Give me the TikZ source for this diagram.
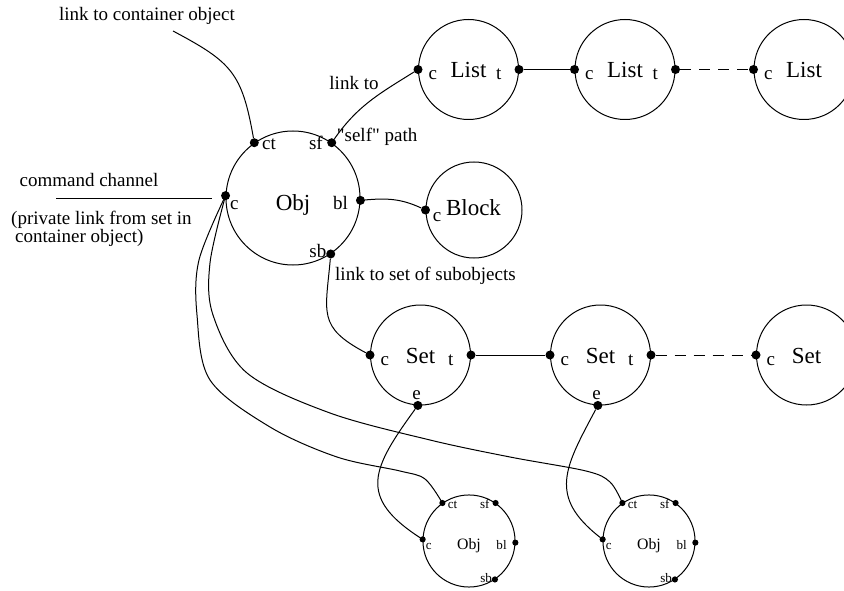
\documentclass[tikz,border=0pt]{standalone}
\usepackage{fontspec}
\setmainfont{Liberation Serif}
% same face, but with straight double quotes kept as typed
\newfontfamily\straightserif{Liberation Serif}[Ligatures=TeXOff]

% A chain element (List / Set): ring, title, entry port "c" on the left
\newcommand{\chainring}[4]{% name, x, y, title
  \node[ring, minimum size=100pt] (#1) at (#2,#3) {};
  \node[namefont, anchor=base, yshift=-8pt] (#1-name) at (#2,#3) {#4};
  \node[port] (#1-c) at (#1.180) {};
  \node[tagfont, anchor=base west, xshift=-40pt, yshift=-10pt] (#1-cl) at (#2,#3) {c};
}
% Exit port "t" on the right of a chain element
\newcommand{\tailport}[3]{% name, x, y
  \node[port] (#1-t) at (#1.0) {};
  \node[tagfont, anchor=base east, xshift=33pt, yshift=-10pt] (#1-tl) at (#2,#3) {t};
}
% An object with its five ports ct, sf, c, bl, sb
\newcommand{\objunit}[4]{% name, x, y, scale
  \begin{scope}[shift={(#2,#3)}, scale=#4, transform shape]
    \node[ring, minimum size=134pt] (#1) at (0,0) {};
    \node[namefont, anchor=base] (#1-name) at (0,-13) {Obj};
    \node[port] (#1-ct) at (#1.125) {};
    \node[port] (#1-sf) at (#1.55) {};
    \node[port] (#1-c)  at (#1.178) {};
    \node[port] (#1-bl) at (#1.-2) {};
    \node[port] (#1-sb) at (#1.-56) {};
    \node[tagfont, anchor=base west] (#1-ctl) at (-31,48) {ct};
    \node[tagfont, anchor=base east] (#1-sfl) at (30,48) {sf};
    \node[tagfont, anchor=base west] (#1-cl)  at (-63,-12) {c};
    \node[tagfont, anchor=base east] (#1-bll) at (55,-12) {bl};
    \node[tagfont, anchor=base east] (#1-sbl) at (33.5,-60) {sb};
  \end{scope}
}

\begin{document}
\begin{tikzpicture}[x=1pt, y=1pt,
  ring/.style={circle, draw, line width=1pt, inner sep=0pt},
  port/.style={circle, fill, inner sep=0pt, minimum size=9pt},
  namefont/.style={font=\fontsize{23}{25}\selectfont, inner sep=0pt},
  tagfont/.style={font=\fontsize{19}{21}\selectfont, inner sep=0pt},
  link/.style={line width=1pt},
  trail/.style={link, dash pattern=on 11pt off 8pt}]
\useasboundingbox (0,0) rectangle (844,-591);
\clip (0,0) rectangle (844,-591);

% main object
\objunit{obj}{293}{-198}{1}

% list chain
\chainring{list1}{468.5}{-69.5}{List}
\tailport{list1}{468.5}{-69.5}
\chainring{list2}{625}{-69.5}{List}
\tailport{list2}{625}{-69.5}
\chainring{list3}{804}{-69.5}{List}

% block
\node[ring, minimum size=96pt] (block) at (474,-210) {};
\node[namefont, anchor=base] (block-name) at (473.5,-215) {Block};
\node[port] (block-c) at (block.180) {};
\node[tagfont, anchor=base west] (block-cl) at (432.7,-221.7) {c};

% set chain
\chainring{set1}{420.5}{-355}{Set}
\tailport{set1}{420.5}{-355}
\node[port] (set1-e) at (set1.-93) {};
\node[tagfont, anchor=base] (set1-el) at (416.5,-399) {e};
\chainring{set2}{600.5}{-355}{Set}
\tailport{set2}{600.5}{-355}
\node[port] (set2-e) at (set2.-93) {};
\node[tagfont, anchor=base] (set2-el) at (596.5,-399) {e};
\chainring{set3}{806.5}{-355}{Set}

% subobjects
\objunit{sub1}{469}{-541}{0.687}
\objunit{sub2}{649}{-541}{0.687}

% annotations
\node[tagfont, anchor=base] (t-container) at (147,-20.5) {link to container object};
\node[tagfont, anchor=base] (t-command) at (89,-186) {command channel};
\node[tagfont, anchor=base west] (t-private1) at (11,-225) {(private link from set in};
\node[tagfont, anchor=base west] (t-private2) at (15,-242.5) {container object)};
\node[tagfont, anchor=base] (t-linkto) at (354,-90) {link to};
\node[tagfont, anchor=base west] (t-self) at (336.7,-141.7) {\straightserif "self" path};
\node[tagfont, anchor=base west] (t-subset) at (335,-280) {link to set of subobjects};

% free ends
\coordinate (ctfree) at (173,-31);
\coordinate (cmdA) at (56,-198.3);
\coordinate (cmdB) at (211.7,-198.3);

% connectors
\draw[link] (ctfree) to[out=-28, in=100, looseness=1.27] (obj-ct);
\draw[link] (cmdA) -- (cmdB);
\draw[link] (obj-sf) to[out=55, in=212] (list1-c);
\draw[link] (obj-bl) to[out=5, in=155] (block-c);
\draw[link] (obj-sb) to[out=-95, in=152, looseness=1.4] (set1-c);
\draw[link] (list1-t) -- (list2-c);
\draw[trail] (list2-t) -- (list3-c);
\draw[link] (set1-t) -- (set2-c);
\draw[trail] (set2-t) -- (set3-c);
\draw[link] (set1-e) .. controls +(-126:78) and +(147:78) .. (sub1-c);
\draw[link] (set2-e) .. controls +(-118:70) and +(142:70) .. (sub2-c);
\draw[link] plot[smooth, tension=0.55] coordinates {(obj-c.center) (199,-260) (197,-315) (210,-380) (270,-427) (337,-457) (400,-471) (425,-479) (sub1-ct.center)};
\draw[link] plot[smooth, tension=0.55] coordinates {(obj-c.center) (210,-263) (213,-315) (247,-373) (330,-413) (430,-440) (510,-457) (586,-471) (610,-482) (sub2-ct.center)};
\end{tikzpicture}
\end{document}
